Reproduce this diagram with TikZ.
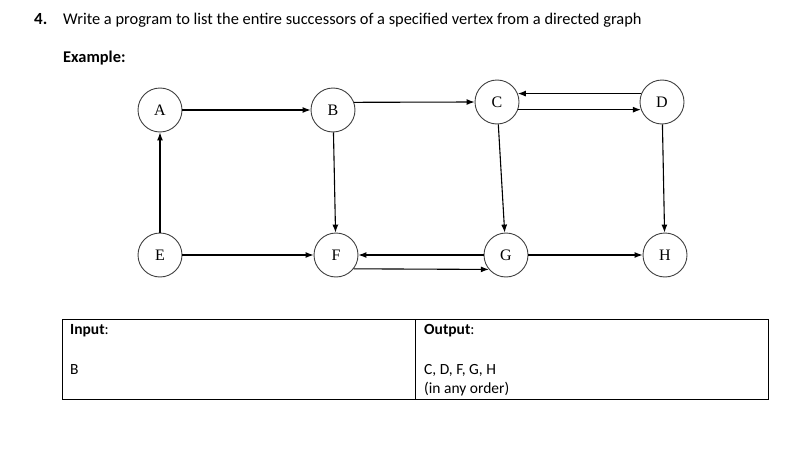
\documentclass[tikz,border=0pt]{standalone}
\usepackage{fontspec}
\usetikzlibrary{arrows.meta}
\setmainfont{Carlito}
\newfontfamily\vertexfont{Liberation Serif}
\begin{document}
\begin{tikzpicture}[>={Latex[length=8pt,width=6pt]}, x=1pt, y=-1pt,
  vertex/.style={circle, draw=black!75, line width=0.9pt, minimum size=44pt, inner sep=0pt, font=\vertexfont\fontsize{16}{18}\selectfont},
  txt/.style={anchor=base west, inner sep=0pt, font=\fontsize{16.4}{19}\selectfont},
  edge/.style={->, line width=1.1pt}]
\useasboundingbox (0,0) rectangle (807,463);
% Aufgabe
\node[txt, font=\bfseries\fontsize{17}{19}\selectfont] (num) at (34,24) {4.};
\node[txt] (task) at (63,24) {Write a program to list the entire successors of a specified vertex from a directed graph};
\node[txt, font=\bfseries\fontsize{16.4}{19}\selectfont] (ex) at (63,63) {Example:};
% Knoten
\node[vertex] (A) at (160,110) {A};
\node[vertex] (B) at (333,110) {B};
\node[vertex] (C) at (497,102) {C};
\node[vertex] (D) at (662,102) {D};
\node[vertex] (E) at (160,255) {E};
\node[vertex] (F) at (336,255) {F};
\node[vertex] (G) at (506,255) {G};
\node[vertex] (H) at (665,255) {H};
% Kanten
\draw[edge] (A) -- (B);
\draw[edge] (B.20) -- (C.west);
\draw[edge] (D.158) -- (C.22);
\draw[edge] (C.-20) -- (D.200);
\draw[edge] (E) -- (A);
\draw[edge] (B) -- (F);
\draw[edge] (C) -- (G);
\draw[edge] (D) -- (H);
\draw[edge] (E) -- (F);
\draw[edge] (G) -- (F);
\draw[edge] (F.-38) -- (G.-140);
\draw[edge] (G) -- (H);
% Tabelle
\draw[line width=0.8pt] (62,319) rectangle (768,399);
\draw[line width=0.8pt] (415,319) -- (415,399);
\node[txt, font=\fontsize{15.5}{18}\selectfont] (inlab) at (70,334) {\textbf{Input}:};
\node[txt, font=\fontsize{15.5}{18}\selectfont] (inval) at (70,374) {B};
\node[txt, font=\fontsize{15.5}{18}\selectfont] (outlab) at (424,334) {\textbf{Output}:};
\node[txt, font=\fontsize{15.5}{18}\selectfont] (outval) at (424,374) {C, D, F, G, H};
\node[txt, font=\fontsize{15.5}{18}\selectfont] (outnote) at (424,393) {(in any order)};
\end{tikzpicture}
\end{document}
